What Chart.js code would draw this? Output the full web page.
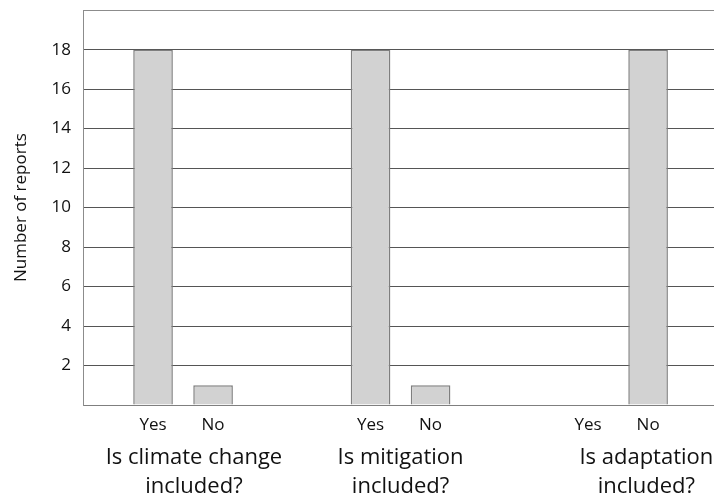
<!DOCTYPE html>
<html>
<head>
<meta charset="utf-8">
<script src="https://cdn.jsdelivr.net/npm/chart.js@4.4.1/dist/chart.umd.min.js"></script>
<style>
  html, body { margin: 0; padding: 0; background: #fff; }
  #chart { display: block; }
</style>
</head>
<body>
<canvas id="chart" width="714" height="497"></canvas>
<script>
// categories (questions) and answers
const groups = [['Is climate change', 'included?'], ['Is mitigation', 'included?'], ['Is adaptation', 'included?']];
const answers = ['Yes', 'No'];
const groupIndex = [0, 1, 2];
const yesValues = [18, 18, 0];
const noValues = [1, 1, 18];
// where each question label sits on the x scale
const groupLabelAt = [0.05, 1, 2.13];
const yTicks = [2, 4, 6, 8, 10, 12, 14, 16, 18];

const textFont = "'Open Sans', sans-serif";

const answerLabels = {
    id: 'answerLabels',
    afterDraw: (chart) => {
        const ctx = chart.ctx;
        ctx.save();
        ctx.fillStyle = '#111';
        ctx.textAlign = 'center';
        ctx.textBaseline = 'middle';
        // Yes / No under each bar
        ctx.font = '17px ' + textFont;
        chart.data.datasets.forEach((ds, di) => {
            chart.getDatasetMeta(di).data.forEach(bar => {
                ctx.fillText(ds.label, bar.x, 425);
            });
        });
        // question labels
        ctx.font = '22px ' + textFont;
        const xs = chart.scales.x;
        groups.forEach((g, i) => {
            const px = xs.getPixelForValue(groupLabelAt[i]);
            ctx.fillText(g[0], px, 458);
            ctx.fillText(g[1], px, 487);
        });
        ctx.restore();
    }
};

Chart.defaults.font.family = textFont;
Chart.defaults.color = '#111';

new Chart(document.getElementById('chart'), {
    type: 'bar',
    data: {
        datasets: [
            {
                label: answers[0],
                data: groupIndex.map((g, i) => ({x: g, y: yesValues[i]})),
                backgroundColor: '#d2d2d2',
                borderColor: '#7f7f7f',
                borderWidth: 1.5
            },
            {
                label: answers[1],
                data: groupIndex.map((g, i) => ({x: g, y: noValues[i]})),
                backgroundColor: '#d2d2d2',
                borderColor: '#7f7f7f',
                borderWidth: 1.5
            }
        ]
    },
    options: {
        responsive: false,
        animation: false,
        categoryPercentage: 0.552,
        barPercentage: 0.66,
        layout: { padding: { top: 0, right: 0, bottom: 84, left: 0 } },
        plugins: {
            legend: { display: false },
            tooltip: { enabled: false }
        },
        scales: {
            x: {
                type: 'linear',
                offset: false,
                min: -0.46,
                max: 2.441,
                grid: { display: false },
                ticks: { display: false },
                afterBuildTicks: (scale) => { scale.ticks = groupIndex.map(v => ({value: v})); },
                border: { color: '#7f7f7f', width: 1 }
            },
            y: {
                min: 0,
                max: 20,
                ticks: {
                    stepSize: 2,
                    padding: 0,
                    font: { size: 17 },
                    callback: (v) => yTicks.includes(v) ? v : ''
                },
                grid: {
                    drawTicks: true,
                    tickLength: 12,
                    tickColor: 'rgba(0,0,0,0)',
                    color: (c) => c.tick && c.tick.value === 20 ? '#8c8c8c' : '#555'
                },
                border: { color: '#8c8c8c', width: 1 },
                title: {
                    display: true,
                    text: 'Number of reports',
                    font: { size: 17 },
                    padding: { top: 11, bottom: 4 }
                },
                afterFit: (scale) => { scale.width = 83; }
            }
        }
    },
    plugins: [answerLabels]
});
</script>
</body>
</html>
